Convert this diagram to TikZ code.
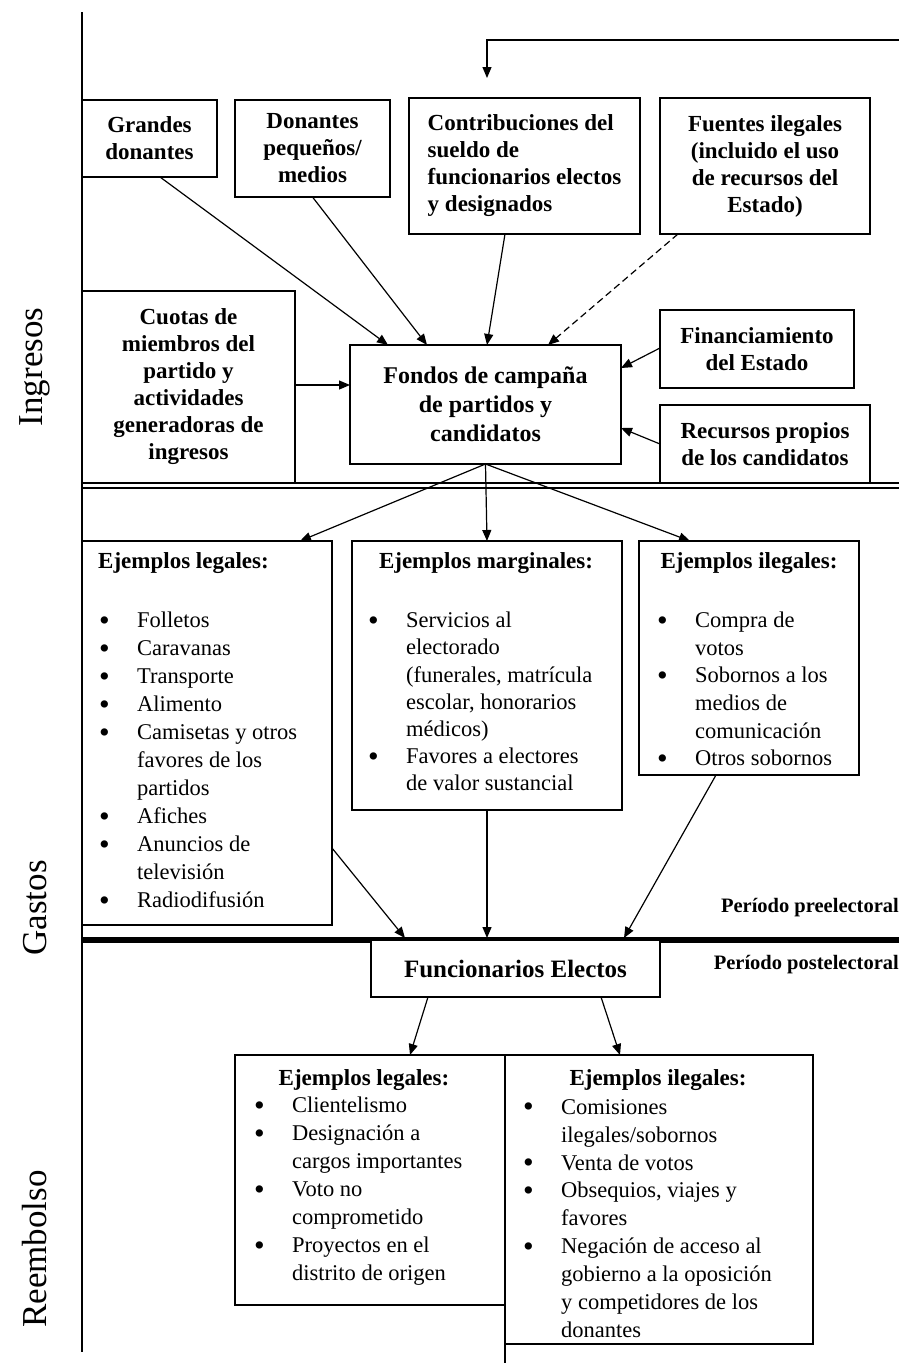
\documentclass[tikz,border=0pt]{standalone}
\usepackage{fontspec}
\setmainfont{Liberation Serif}
\usetikzlibrary{arrows.meta,calc}
\newcommand\bu[1]{\makebox[38pt][l]{\smash{\raisebox{-2.5pt}{\scalebox{1.35}{•}}}}#1}
\newcommand\co[1]{\hspace*{38pt}#1}
\tikzset{
  bx/.style={draw, line width=1.2pt, inner sep=0pt, outer sep=0pt, fill=white},
  bt/.style={font=\fontsize{23}{27}\selectfont\bfseries, align=center},
  hd/.style={font=\fontsize{23}{27}\selectfont\bfseries, inner sep=0pt},
  lt/.style={font=\fontsize{22.5}{28}\selectfont, align=left, inner sep=0pt, anchor=west},
  arr/.style={line width=1.2pt, -{Triangle[length=11pt,width=9pt]}},
  side/.style={font=\fontsize{35}{40}\selectfont, rotate=90, inner sep=0pt},
  per/.style={font=\fontsize{20.5}{24}\selectfont\bfseries, inner sep=0pt, anchor=east}
}
\begin{document}
\begin{tikzpicture}[x=1pt,y=-1pt]
\useasboundingbox (0,0) rectangle (899,1363);
% frame lines
\coordinate (lt) at (82,12);
\coordinate (lb) at (82,1352);
\draw[line width=1.5pt] (lt) -- (lb);
\coordinate (d1l) at (82,483); \coordinate (d1r) at (899,483);
\coordinate (d2l) at (82,488); \coordinate (d2r) at (899,488);
\draw[line width=1.2pt] (d1l) -- (d1r);
\draw[line width=1.2pt] (d2l) -- (d2r);
\coordinate (thl) at (82,940); \coordinate (thr) at (899,940);
\draw[line width=6pt] (thl) -- (thr);

% side labels
\node[side] (ing) at (35,367) {Ingresos};
\node[side] (gas) at (35,908) {Gastos};
\node[side] (ree) at (35,1249) {Reembolso};

% top boxes
\node[bx,bt,minimum width=135pt,minimum height=77pt] (grandes) at (149.5,138.5) {Grandes\\donantes};
\node[bx,bt,minimum width=155pt,minimum height=97pt] (donantes) at (312.5,148.5) {Donantes\\pequeños/\\medios};
\node[bx,bt,minimum width=231pt,minimum height=136pt,align=left] (contrib) at (524.5,166) {Contribuciones del\\sueldo de\\funcionarios electos\\y designados};
\node[bx,bt,minimum width=210pt,minimum height=136pt] (fuentes) at (765,166) {Fuentes ilegales\\(incluido el uso\\de recursos del\\Estado)};
\node[bx,bt,minimum width=213pt,minimum height=192pt] (cuotas) at (188.5,387) {Cuotas de\\miembros del\\partido y\\actividades\\generadoras de\\ingresos};
\node[bx,font=\fontsize{24}{29}\selectfont\bfseries,align=center,minimum width=271pt,minimum height=119pt] (fondos) at (485.5,404.5) {Fondos de campaña\\de partidos y\\candidatos};
\node[bx,bt,minimum width=194pt,minimum height=78pt] (financ) at (757,349) {Financiamiento\\del Estado};
\node[bx,bt,minimum width=210pt,minimum height=78pt] (recursos) at (765,444) {Recursos propios\\de los candidatos};

% feedback arrow
\coordinate (fbR) at (899,40);
\coordinate (fbT) at (487,78);
\draw[arr] (fbR) -- (fbT |- fbR) -- (fbT);

% incoming arrows
\draw[arr] ([xshift=10.5pt]grandes.south) -- ([xshift=-97.5pt]fondos.north);
\draw[arr] (donantes.south) -- ([xshift=-58.5pt]fondos.north);
\draw[arr] ([xshift=-19.5pt]contrib.south) -- ([xshift=1.5pt]fondos.north);
\draw[arr,dash pattern=on 7pt off 4pt] ([xshift=-87pt]fuentes.south) -- ([xshift=62.5pt]fondos.north);
\draw[arr] ([yshift=1pt]financ.west) -- ([yshift=36.5pt]fondos.east);
\draw[arr] (recursos.west) -- ([yshift=-23.5pt]fondos.east);
\draw[arr] ([yshift=2pt]cuotas.east) -- ([yshift=2pt]cuotas.east -| fondos.west);

% expense boxes
\node[bx,minimum width=250pt,minimum height=384pt] (legal1) at (207,733) {};
\node[bx,minimum width=270pt,minimum height=269pt] (marg) at (487,675.5) {};
\node[bx,minimum width=220pt,minimum height=234pt] (ileg1) at (749,658) {};

\node[hd,anchor=west] (hl1) at (98,563) {Ejemplos legales:};
\node[hd] (hm) at (486,563) {Ejemplos marginales:};
\node[hd] (hi1) at (749,563) {Ejemplos ilegales:};

\node[lt] (ll1) at (99,760) {\bu{Folletos}\\\bu{Caravanas}\\\bu{Transporte}\\\bu{Alimento}\\\bu{Camisetas y otros}\\\co{favores de los}\\\co{partidos}\\\bu{Afiches}\\\bu{Anuncios de}\\\co{televisión}\\\bu{Radiodifusión}};
\node[lt,font=\fontsize{22.5}{27.2}\selectfont] (lm) at (368,701.5) {\bu{Servicios al}\\\co{electorado}\\\co{(funerales, matrícula}\\\co{escolar, honorarios}\\\co{médicos)}\\\bu{Favores a electores}\\\co{de valor sustancial}};
\node[lt,font=\fontsize{22.5}{27.6}\selectfont] (li1) at (657,689) {\bu{Compra de}\\\co{votos}\\\bu{Sobornos a los}\\\co{medios de}\\\co{comunicación}\\\bu{Otros sobornos}};

\draw[arr] (fondos.south) -- ([xshift=93pt]legal1.north);
\draw[arr] (fondos.south) -- (marg.north);
\draw[arr] (fondos.south) -- ([xshift=-59pt]ileg1.north);

% period labels
\node[per] (pre) at (899,908) {Período preelectoral};
\node[per] (post) at (899,965) {Período postelectoral};

% elected officials
\coordinate (tA) at (405,938);
\coordinate (tB) at (487,938);
\coordinate (tC) at (624,938);
\draw[arr] ([yshift=-115pt]legal1.east) -- (tA);
\draw[arr] (marg.south) -- (tB);
\draw[arr] ([xshift=-33pt]ileg1.south) -- (tC);

\node[bx,font=\fontsize{25}{29}\selectfont\bfseries,minimum width=289pt,minimum height=57pt] (func) at (515.5,968.5) {Funcionarios Electos};

% reimbursement boxes
\node[bx,minimum width=270pt,minimum height=250pt] (legal2) at (370,1180) {};
\node[bx,minimum width=308pt,minimum height=289pt] (ileg2) at (659,1199.5) {};
\coordinate (ex) at (505,1363);
\draw[line width=1.2pt] (ileg2.south west) -- (ex);

\node[hd] (hl2) at (364,1080) {Ejemplos legales:};
\node[hd] (hi2) at (658,1080) {Ejemplos ilegales:};
\node[lt] (ll2) at (254,1191.5) {\bu{Clientelismo}\\\bu{Designación a}\\\co{cargos importantes}\\\bu{Voto no}\\\co{comprometido}\\\bu{Proyectos en el}\\\co{distrito de origen}};
\node[lt,font=\fontsize{22.5}{27.9}\selectfont] (li2) at (523,1218.5) {\bu{Comisiones}\\\co{ilegales/sobornos}\\\bu{Venta de votos}\\\bu{Obsequios, viajes y}\\\co{favores}\\\bu{Negación de acceso al}\\\co{gobierno a la oposición}\\\co{y competidores de los}\\\co{donantes}};

\draw[arr] ([xshift=-87.5pt]func.south) -- ([xshift=40pt]legal2.north);
\draw[arr] ([xshift=85.5pt]func.south) -- ([xshift=-39pt]ileg2.north);
\end{tikzpicture}
\end{document}
